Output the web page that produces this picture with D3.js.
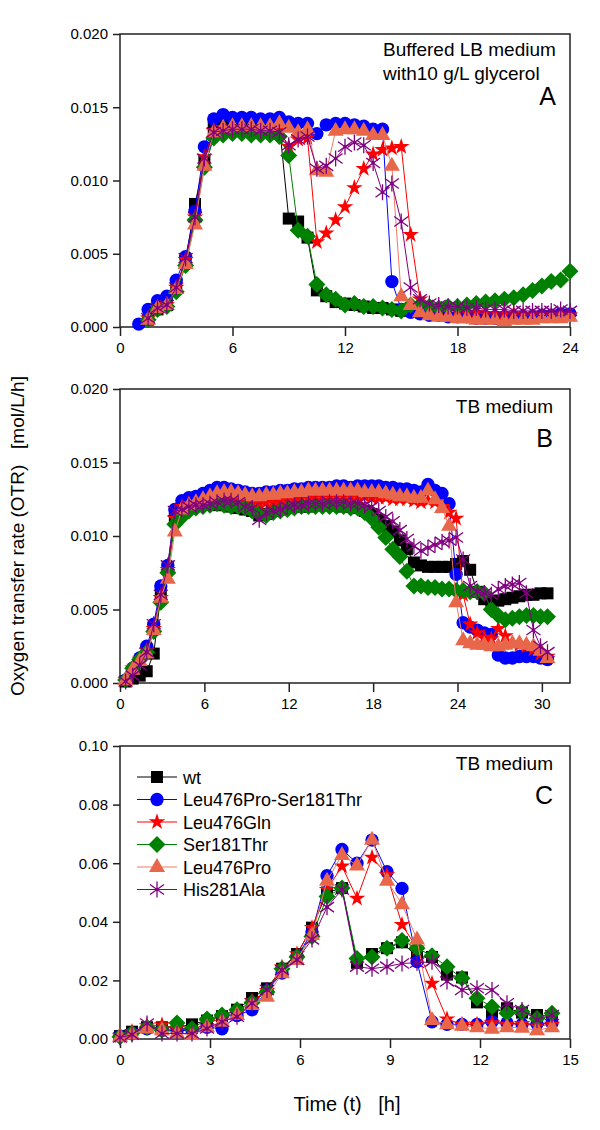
<!DOCTYPE html>
<html>
<head>
<meta charset="utf-8">
<script src="https://cdn.jsdelivr.net/npm/d3@7"></script>
<style>
  body { margin: 0; background: #fff; }
  text { font-family: Arial, "Liberation Sans", sans-serif; fill: #000; }
</style>
</head>
<body>
<div id="chart"></div>
<script>
// series in legend order
const seriesNames = ["wt", "Leu476Pro-Ser181Thr", "Leu476Gln", "Ser181Thr", "Leu476Pro", "His281Ala"];
const seriesShapes = ["square", "circle", "star", "diamond", "triangle", "asterisk"];

// panel A: buffered LB medium with glycerol
const timesA = [1.0, 1.5, 2.0, 2.5, 3.0, 3.5, 4.0, 4.5, 5.0, 5.5, 6.0, 6.5, 7.0, 7.5, 8.0, 8.5,
  9.0, 9.5, 10.0, 10.5, 11.0, 11.5, 12.0, 12.5, 13.0, 13.5, 14.0, 14.5, 15.0, 15.5, 16.0, 16.5,
  17.0, 17.5, 18.0, 18.5, 19.0, 19.5, 20.0, 20.5, 21.0, 21.5, 22.0, 22.5, 23.0, 23.5, 24.0];
const wtA = [null, 0.0005, 0.0012, 0.0015, 0.0027, 0.0045, 0.0084, 0.0113, 0.0136, 0.0139,
  0.0140, 0.0140, 0.0139, 0.0139, 0.0139, 0.0138, 0.0074, 0.0072, 0.0061, 0.0025,
  0.0021, 0.0017, 0.0016, 0.0015, 0.0014, 0.0013, 0.0013, 0.0012, 0.0011, null,
  null, null, null, null, null, null, null, null, null, null,
  null, null, null, null, null, null, null];
const proSerA = [0.0002, 0.0012, 0.0018, 0.0021, 0.0032, 0.0048, 0.0079, 0.0123, 0.0142, 0.0145,
  0.0143, 0.0143, 0.0143, 0.0142, 0.0142, 0.0143, 0.0140, 0.0139, 0.0139, 0.0132,
  0.0138, 0.0139, 0.0139, 0.0138, 0.0137, 0.0135, 0.0135, 0.0031, 0.0012, 0.0010,
  0.0009, 0.0008, 0.0008, 0.0007, 0.0007, 0.0007, 0.0006, 0.0006, 0.0006, 0.0006,
  0.0007, 0.0007, 0.0007, 0.0008, 0.0008, 0.0009, 0.0009];
const glnA = [null, 0.0006, 0.0013, 0.0015, 0.0027, 0.0046, 0.0075, 0.0116, 0.0134, 0.0136,
  0.0136, 0.0136, 0.0135, 0.0135, 0.0135, 0.0134, 0.0123, 0.0128, 0.0129, 0.0058,
  0.0064, 0.0073, 0.0082, 0.0095, 0.0108, 0.0118, 0.0121, 0.0122, 0.0123, 0.0063,
  0.0019, 0.0013, 0.0012, 0.0011, 0.0011, 0.0010, 0.0010, 0.0009, 0.0009, 0.0009,
  0.0009, 0.0008, 0.0008, 0.0008, 0.0008, 0.0008, 0.0008];
const serA = [null, 0.0005, 0.0012, 0.0014, 0.0024, 0.0042, 0.0073, 0.0109, 0.0129, 0.0131,
  0.0132, 0.0132, 0.0131, 0.0131, 0.0131, 0.0130, 0.0117, 0.0066, 0.0062, 0.0029,
  0.0022, 0.0019, 0.0015, 0.0016, 0.0014, 0.0014, 0.0013, 0.0012, 0.0011, 0.0015,
  0.0015, 0.0014, 0.0013, 0.0014, 0.0014, 0.0015, 0.0016, 0.0017, 0.0018, 0.0019,
  0.0020, 0.0022, 0.0025, 0.0028, 0.0031, 0.0032, 0.0038];
const proA = [null, 0.0005, 0.0013, 0.0015, 0.0026, 0.0043, 0.0070, 0.0110, 0.0133, 0.0136,
  0.0137, 0.0137, 0.0137, 0.0137, 0.0137, 0.0139, 0.0136, 0.0133, 0.0135, 0.0107,
  0.0106, 0.0134, 0.0135, 0.0135, 0.0134, 0.0131, 0.0131, 0.0110, 0.0021, 0.0015,
  0.0010, 0.0008, 0.0007, 0.0007, 0.0006, 0.0006, 0.0005, 0.0005, 0.0005, 0.0004,
  0.0005, 0.0005, 0.0005, 0.0006, 0.0006, 0.0006, 0.0007];
const hisA = [null, 0.0006, 0.0013, 0.0015, 0.0027, 0.0047, 0.0075, 0.0115, 0.0133, 0.0134,
  0.0135, 0.0135, 0.0135, 0.0134, 0.0134, 0.0133, 0.0124, 0.0128, 0.0130, 0.0108,
  0.0110, 0.0115, 0.0123, 0.0126, 0.0124, 0.0112, 0.0092, 0.0098, 0.0072, 0.0027,
  0.0019, 0.0016, 0.0015, 0.0014, 0.0014, 0.0013, 0.0013, 0.0012, 0.0012, 0.0012,
  0.0011, 0.0011, 0.0011, 0.0011, 0.0011, 0.0012, 0.0011];

// panel B: TB medium
const timesB = [0.4, 0.9, 1.4, 1.9, 2.4, 2.9, 3.4, 3.9, 4.4, 4.9, 5.4, 5.9, 6.4, 6.9, 7.4, 7.9,
  8.4, 8.9, 9.4, 9.9, 10.4, 10.9, 11.4, 11.9, 12.4, 12.9, 13.4, 13.9, 14.4, 14.9, 15.4, 15.9,
  16.4, 16.9, 17.4, 17.9, 18.4, 18.9, 19.4, 19.9, 20.4, 20.9, 21.4, 21.9, 22.4, 22.9, 23.4, 23.9,
  24.4, 24.9, 25.4, 25.9, 26.4, 26.9, 27.4, 27.9, 28.4, 28.9, 29.4, 29.9, 30.4];
const wtB = [0.0001, 0.0003, 0.0005, 0.0008, 0.0020, 0.0060, 0.0079, 0.0113, 0.0119, 0.0121,
  0.0122, 0.0122, 0.0122, 0.0121, 0.0121, 0.0120, 0.0119, 0.0118, 0.0117, 0.0114,
  0.0115, 0.0117, 0.0118, 0.0119, 0.0120, 0.0120, 0.0120, 0.0121, 0.0121, 0.0121,
  0.0121, 0.0120, 0.0120, 0.0119, 0.0117, 0.0115, 0.0111, 0.0107, 0.0103, 0.0097,
  0.0091, 0.0082, 0.0080, 0.0079, 0.0079, 0.0079, 0.0079, 0.0081, 0.0083, 0.0077,
  0.0062, 0.0057, 0.0056, 0.0056, 0.0057, 0.0058, 0.0059, 0.0060, 0.0060, 0.0061, 0.0061];
const proSerB = [0.0002, 0.0010, 0.0017, 0.0025, 0.0040, 0.0066, 0.0080, 0.0118, 0.0124, 0.0126,
  0.0127, 0.0129, 0.0131, 0.0133, 0.0133, 0.0132, 0.0131, 0.0130, 0.0129, 0.0129,
  0.0130, 0.0130, 0.0131, 0.0131, 0.0132, 0.0132, 0.0133, 0.0133, 0.0133, 0.0133,
  0.0134, 0.0134, 0.0133, 0.0134, 0.0134, 0.0134, 0.0134, 0.0133, 0.0133, 0.0132,
  0.0132, 0.0131, 0.0130, 0.0135, 0.0131, 0.0129, 0.0122, 0.0074, 0.0041, 0.0038,
  0.0036, 0.0034, 0.0033, 0.0019, 0.0017, 0.0017, 0.0018, 0.0018, 0.0018, 0.0017, 0.0016];
const glnB = [0.0002, 0.0010, 0.0016, 0.0022, 0.0037, 0.0058, 0.0077, 0.0112, 0.0120, 0.0122,
  0.0123, 0.0124, 0.0125, 0.0126, 0.0126, 0.0125, 0.0124, 0.0123, 0.0122, 0.0122,
  0.0123, 0.0123, 0.0124, 0.0125, 0.0125, 0.0126, 0.0126, 0.0127, 0.0127, 0.0127,
  0.0127, 0.0127, 0.0127, 0.0127, 0.0127, 0.0126, 0.0126, 0.0126, 0.0125, 0.0125,
  0.0125, 0.0124, 0.0123, 0.0124, 0.0123, 0.0120, 0.0116, 0.0112, 0.0060, 0.0040,
  0.0034, 0.0031, 0.0030, 0.0037, 0.0032, 0.0027, 0.0026, 0.0025, 0.0023, 0.0020, 0.0018];
const serB = [0.0002, 0.0010, 0.0016, 0.0021, 0.0035, 0.0055, 0.0075, 0.0108, 0.0113, 0.0117,
  0.0119, 0.0120, 0.0121, 0.0122, 0.0121, 0.0120, 0.0120, 0.0119, 0.0117, 0.0115,
  0.0114, 0.0116, 0.0117, 0.0118, 0.0119, 0.0120, 0.0120, 0.0120, 0.0120, 0.0120,
  0.0120, 0.0120, 0.0119, 0.0119, 0.0116, 0.0112, 0.0106, 0.0099, 0.0091, 0.0086,
  0.0076, 0.0066, 0.0066, 0.0065, 0.0065, 0.0064, 0.0064, 0.0063, 0.0063, 0.0062,
  0.0062, 0.0061, 0.0050, 0.0046, 0.0043, 0.0044, 0.0045, 0.0046, 0.0046, 0.0045, 0.0045];
const proB = [0.0002, 0.0009, 0.0015, 0.0020, 0.0036, 0.0058, 0.0071, 0.0103, 0.0118, 0.0121,
  0.0123, 0.0125, 0.0127, 0.0129, 0.0130, 0.0130, 0.0129, 0.0128, 0.0127, 0.0127,
  0.0128, 0.0128, 0.0129, 0.0129, 0.0130, 0.0130, 0.0131, 0.0131, 0.0131, 0.0131,
  0.0131, 0.0131, 0.0131, 0.0131, 0.0130, 0.0130, 0.0130, 0.0129, 0.0128, 0.0127,
  0.0127, 0.0126, 0.0126, 0.0131, 0.0125, 0.0119, 0.0107, 0.0055, 0.0029, 0.0027,
  0.0026, 0.0026, 0.0025, 0.0025, 0.0026, 0.0027, 0.0027, 0.0026, 0.0025, 0.0022, 0.0017];
const hisB = [0.0001, 0.0005, 0.0012, 0.0021, 0.0040, 0.0060, 0.0080, 0.0117, 0.0118, 0.0120,
  0.0121, 0.0121, 0.0122, 0.0123, 0.0124, 0.0124, 0.0123, 0.0120, 0.0119, 0.0111,
  0.0116, 0.0117, 0.0118, 0.0120, 0.0121, 0.0121, 0.0122, 0.0122, 0.0122, 0.0123,
  0.0123, 0.0123, 0.0122, 0.0122, 0.0121, 0.0120, 0.0117, 0.0113, 0.0110, 0.0104,
  0.0098, 0.0093, 0.0090, 0.0092, 0.0094, 0.0096, 0.0097, 0.0099, 0.0084, 0.0066,
  0.0062, 0.0061, 0.0060, 0.0064, 0.0066, 0.0067, 0.0068, 0.0061, 0.0036, 0.0025, 0.0021];

// panel C: TB medium
const timesC = [0, 0.4, 0.9, 1.4, 1.9, 2.4, 2.9, 3.4, 3.9, 4.4, 4.9, 5.4, 5.9, 6.4, 6.9,
  7.4, 7.9, 8.4, 8.9, 9.4, 9.9, 10.4, 10.9, 11.4, 11.9, 12.4, 12.9, 13.4, 13.9, 14.4];
const wtC = [0.0010, 0.0025, 0.0040, 0.0040, 0.0040, 0.0050, 0.0063, 0.0078, 0.0100, 0.0140,
  0.0173, 0.0240, 0.0290, 0.0380, 0.0500, 0.0515, 0.0260, 0.0290, 0.0310, 0.0330,
  0.0280, 0.0280, 0.0220, 0.0210, 0.0125, 0.0090, 0.0105, 0.0090, 0.0082, 0.0076];
const proSerC = [0.0010, 0.0020, 0.0035, 0.0030, 0.0028, 0.0030, 0.0040, 0.0035, 0.0080, 0.0100,
  0.0165, 0.0225, 0.0280, 0.0365, 0.0557, 0.0647, 0.0600, 0.0679, 0.0571, 0.0514,
  0.0264, 0.0059, 0.0050, 0.0050, 0.0050, 0.0060, 0.0055, 0.0050, 0.0052, 0.0055];
const glnC = [0.0010, 0.0025, 0.0045, 0.0048, 0.0035, 0.0030, 0.0055, 0.0070, 0.0090, 0.0130,
  0.0165, 0.0245, 0.0290, 0.0380, 0.0510, 0.0590, 0.0480, 0.0620, 0.0560, 0.0390,
  0.0310, 0.0190, 0.0068, 0.0050, 0.0050, 0.0055, 0.0050, 0.0052, 0.0045, 0.0050];
const serC = [0.0008, 0.0020, 0.0040, 0.0030, 0.0055, 0.0035, 0.0068, 0.0082, 0.0100, 0.0125,
  0.0160, 0.0240, 0.0280, 0.0350, 0.0486, 0.0515, 0.0275, 0.0280, 0.0310, 0.0336,
  0.0310, 0.0284, 0.0247, 0.0207, 0.0139, 0.0110, 0.0088, 0.0093, 0.0070, 0.0088];
const proC = [0.0008, 0.0015, 0.0036, 0.0030, 0.0020, 0.0014, 0.0040, 0.0059, 0.0082, 0.0116,
  0.0144, 0.0224, 0.0270, 0.0355, 0.0540, 0.0628, 0.0592, 0.0680, 0.0540, 0.0460,
  0.0340, 0.0065, 0.0050, 0.0045, 0.0040, 0.0035, 0.0040, 0.0038, 0.0030, 0.0040];
const hisC = [0.0005, 0.0015, 0.0053, 0.0019, 0.0019, 0.0019, 0.0036, 0.0059, 0.0076, 0.0122,
  0.0167, 0.0235, 0.0270, 0.0340, 0.0450, 0.0510, 0.0247, 0.0240, 0.0247, 0.0258,
  0.0260, 0.0264, 0.0196, 0.0167, 0.0173, 0.0167, 0.0122, 0.0099, 0.0065, 0.0082];

// tick labels
const xTicksA = [0, 6, 12, 18, 24];
const xTicksB = [0, 6, 12, 18, 24, 30];
const xTicksC = [0, 3, 6, 9, 12, 15];
const yTicksAB = [0, 0.005, 0.010, 0.015, 0.020];
const yTicksC = [0, 0.02, 0.04, 0.06, 0.08, 0.10];

// styling
const markerColors = ["#000000", "#0000ff", "#ff0000", "#008000", "#e8674a", "#800080"];
const lineColors = ["#000000", "#0000ff", "#ff0000", "#008000", "#f07a62", "#800080"];

const width = 600, height = 1130;
const left = 120, right = 570;

const panels = [
  { times: timesA, series: [wtA, proSerA, glnA, serA, proA, hisA], xMax: 24, yMax: 0.020,
    xTicks: xTicksA, yTicks: yTicksAB, fmt: d3.format(".3f"), top: 34, bottom: 327,
    letter: "A", notes: ["Buffered LB medium", "with10 g/L glycerol"] },
  { times: timesB, series: [wtB, proSerB, glnB, serB, proB, hisB], xMax: 32, yMax: 0.020,
    xTicks: xTicksB, yTicks: yTicksAB, fmt: d3.format(".3f"), top: 389, bottom: 683,
    letter: "B", notes: ["TB medium"] },
  { times: timesC, series: [wtC, proSerC, glnC, serC, proC, hisC], xMax: 15, yMax: 0.10,
    xTicks: xTicksC, yTicks: yTicksC, fmt: d3.format(".2f"), top: 746, bottom: 1039,
    letter: "C", notes: ["TB medium"], legend: true }
];

function markerPath(shape) {
  switch (shape) {
    case "square": return "M-6,-6H6V6H-6Z";
    case "circle": return d3.symbol(d3.symbolCircle, 140)();
    case "star": return d3.symbol(d3.symbolStar, 85)();
    case "diamond": return "M0,-8.5L8.5,0L0,8.5L-8.5,0Z";
    case "triangle": return "M0,-9L8,5L-8,5Z";
    case "asterisk": return "M0,-8V8M-7,-5L7,5M-7,5L7,-5";
  }
}

function drawMarker(g, shape, color) {
  if (shape === "asterisk") {
    g.append("path").attr("d", markerPath(shape))
      .attr("fill", "none").attr("stroke", color).attr("stroke-width", 1.3);
    g.append("circle").attr("r", 1.8).attr("fill", color);
  } else {
    g.append("path").attr("d", markerPath(shape)).attr("fill", color);
  }
}

const svg = d3.select("#chart").append("svg")
  .attr("width", width).attr("height", height);

panels.forEach(p => {
  const x = d3.scaleLinear().domain([0, p.xMax]).range([left, right]);
  const y = d3.scaleLinear().domain([0, p.yMax]).range([p.bottom, p.top]);

  const g = svg.append("g");

  // frame
  g.append("rect")
    .attr("x", left).attr("y", p.top)
    .attr("width", right - left).attr("height", p.bottom - p.top)
    .attr("fill", "none").attr("stroke", "#222").attr("stroke-width", 1.5);

  const xAxis = g.append("g")
    .attr("transform", `translate(0,${p.bottom})`)
    .call(d3.axisBottom(x).tickValues(p.xTicks).tickSize(9).tickPadding(6).tickFormat(d3.format("d")));
  const yAxis = g.append("g")
    .attr("transform", `translate(${left},0)`)
    .call(d3.axisLeft(y).tickValues(p.yTicks).tickSize(7).tickPadding(5).tickFormat(p.fmt));
  [xAxis, yAxis].forEach(a => {
    a.select(".domain").remove();
    a.selectAll("line").attr("stroke", "#222").attr("stroke-width", 1.5);
    a.selectAll("text").attr("font-size", 15).attr("font-family", "Arial, 'Liberation Sans', sans-serif").attr("fill", "#000");
  });

  const line = d3.line()
    .defined(d => d.v != null)
    .x(d => x(d.t)).y(d => y(d.v));

  p.series.forEach((vals, i) => {
    const pts = vals.map((v, k) => ({ t: p.times[k], v: v }));
    g.append("path").datum(pts)
      .attr("d", line)
      .attr("fill", "none")
      .attr("stroke", lineColors[i])
      .attr("stroke-width", 1);
    const mk = g.append("g");
    pts.filter(d => d.v != null).forEach(d => {
      const m = mk.append("g").attr("transform", `translate(${x(d.t)},${y(d.v)})`);
      drawMarker(m, seriesShapes[i], markerColors[i]);
    });
  });

  // annotations
  if (p.letter === "A") {
    p.notes.forEach((n, j) => {
      g.append("text").attr("x", 383).attr("y", p.top + 22 + j * 24)
        .attr("font-size", 19).text(n);
    });
    g.append("text").attr("x", 556).attr("y", p.top + 71)
      .attr("text-anchor", "end").attr("font-size", 25).text(p.letter);
  } else {
    g.append("text").attr("x", 553).attr("y", p.top + 24)
      .attr("text-anchor", "end").attr("font-size", 19).text(p.notes[0]);
    g.append("text").attr("x", 553).attr("y", p.top + 58)
      .attr("text-anchor", "end").attr("font-size", 25).text(p.letter);
  }

  if (p.legend) {
    seriesNames.forEach((name, i) => {
      const ly = p.top + 31 + i * 22.5;
      const lg = g.append("g");
      lg.append("line").attr("x1", 137).attr("x2", 177).attr("y1", ly).attr("y2", ly)
        .attr("stroke", lineColors[i]).attr("stroke-width", 1);
      const m = lg.append("g").attr("transform", `translate(157,${ly})`);
      drawMarker(m, seriesShapes[i], markerColors[i]);
      lg.append("text").attr("x", 183).attr("y", ly + 6.5)
        .attr("font-size", 18).text(name);
    });
  }
});

// axis titles
svg.append("text")
  .attr("transform", "translate(24,536) rotate(-90)")
  .attr("text-anchor", "middle")
  .attr("font-size", 19)
  .style("white-space", "pre")
  .text("Oxygen transfer rate (OTR)   [mol/L/h]");

svg.append("text")
  .attr("x", 347).attr("y", 1111)
  .attr("text-anchor", "middle")
  .attr("font-size", 20)
  .style("white-space", "pre")
  .text("Time (t)   [h]");
</script>
</body>
</html>
